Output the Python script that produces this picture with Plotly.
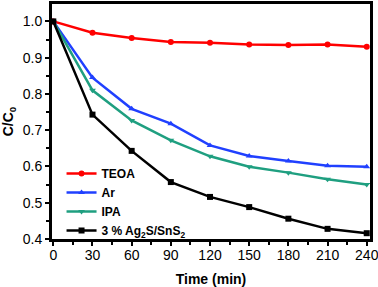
import plotly.graph_objects as go

time = [0, 30, 60, 90, 120, 150, 180, 210, 240]
teoa = [1.0, 0.969, 0.954, 0.943, 0.941, 0.936, 0.935, 0.936, 0.930]
ar = [1.0, 0.845, 0.759, 0.718, 0.658, 0.629, 0.615, 0.602, 0.599]
ipa = [1.0, 0.810, 0.727, 0.672, 0.628, 0.599, 0.583, 0.565, 0.550]
ag = [1.0, 0.743, 0.643, 0.557, 0.516, 0.488, 0.456, 0.428, 0.416]
names = ["TEOA", "Ar", "IPA", "3 % Ag<sub>2</sub>S/SnS<sub>2</sub>"]
colors = ["#FF0000", "#2040FF", "#1F9F80", "#000000"]
symbols = ["circle", "triangle-up", "triangle-down", "square"]
series = [teoa, ar, ipa, ag]

fig = go.Figure()
for name, ys, c, s in zip(names, series, colors, symbols):
    fig.add_trace(go.Scatter(x=time, y=ys, name=name, mode="lines+markers",
                             line=dict(color=c, width=2.5),
                             marker=dict(symbol=s, size=6, color=c)))

font = "Liberation Sans, Arial, sans-serif"
axis_common = dict(showline=True, linewidth=3, linecolor="black", mirror=True,
                   ticks="outside", ticklen=4, tickwidth=2, tickcolor="black",
                   showgrid=False, zeroline=False, automargin=False,
                   ticklabeloverflow="allow",
                   tickfont=dict(family=font, size=14, color="black"))
fig.update_xaxes(range=[-1, 242.5], tickvals=time, ticktext=[str(t) for t in time],
                 ticklabelstandoff=-3,
                 minor=dict(ticks="outside", ticklen=3, tickwidth=2, dtick=15, tick0=0, tickcolor="black"),
                 title=dict(text="<b>Time (min)</b>", font=dict(family=font, size=14, color="black"), standoff=13),
                 **axis_common)
fig.update_yaxes(range=[0.4, 1.048], tickvals=[0.4, 0.5, 0.6, 0.7, 0.8, 0.9, 1.0], tickformat=".1f",
                 minor=dict(ticks="outside", ticklen=3, tickwidth=2, dtick=0.05, tick0=0.4, tickcolor="black"),
                 title=dict(text="<b>C/C<sub>0</sub></b>", font=dict(family=font, size=14, color="black"), standoff=8),
                 **axis_common)
fig.update_layout(width=378, height=287, margin=dict(l=52, r=8, t=4, b=48),
                  plot_bgcolor="white", paper_bgcolor="white",
                  legend=dict(x=0.03, y=0.34, xanchor="left", yanchor="top", bgcolor="rgba(0,0,0,0)",
                              font=dict(family=font, size=12, color="black", weight="bold"),
                              tracegroupgap=0, itemwidth=30),
                  showlegend=True)
fig.write_html("out.html", post_script="document.body.style.margin='0';",
               config={"displayModeBar": False})
